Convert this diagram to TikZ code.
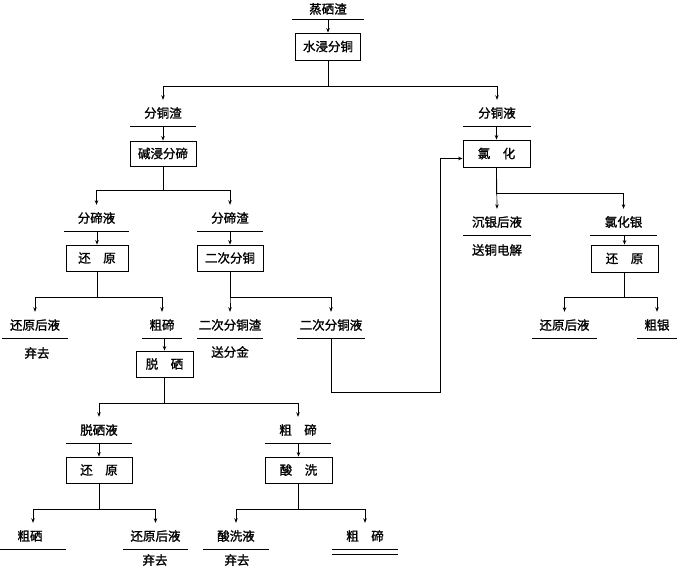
\documentclass[tikz,border=0pt]{standalone}
\usepackage{fontspec}
\setmainfont{Noto Sans CJK SC}[AutoFakeBold=1.2]
\usetikzlibrary{arrows.meta}
\begin{document}
\begin{tikzpicture}[x=1pt,y=-1pt,
  every node/.style={font=\fontsize{12.5pt}{12.5pt}\selectfont\bfseries, inner sep=0pt},
  box/.style={draw, line width=0.8pt, minimum height=26pt},
  lab/.style={minimum height=26pt},
  txt/.style={},
  ln/.style={line width=0.7pt},
  arr/.style={line width=0.7pt, -{Stealth[length=4.5pt,width=3.5pt]}}]
\useasboundingbox[fill=white] (0,0) rectangle (682,567);
% labels
\node[lab, minimum height=20pt, minimum width=71pt] (l0) at (328,9) {蒸硒渣};
\node[box, minimum width=65pt, minimum height=27pt] (b0) at (328,46.5) {水浸分铜};
\node[lab, minimum width=65pt] (l1) at (163,113) {分铜渣};
\node[lab, minimum width=67pt] (l2) at (497,113) {分铜液};
\node[box, minimum width=66pt, minimum height=25pt] (b1) at (163,153.5) {碱浸分碲};
\node[box, minimum width=67pt, minimum height=27pt] (b2) at (496.5,153.5) {氯\hspace{1em}化};
\node[lab, minimum width=65pt] (l3) at (96.5,218) {分碲液};
\node[lab, minimum width=66pt] (l4) at (230,218) {分碲渣};
\node[box, minimum width=62pt] (b3) at (97,258) {还\hspace{1em}原};
\node[box, minimum width=66pt] (b4) at (230,258) {二次分铜};
\node[lab, minimum width=66pt] (l5) at (35,325) {还原后液};
\node[txt] (t1) at (37,353) {弃去};
\node[lab, minimum width=40pt] (l6) at (162,325) {粗碲};
\node[lab, minimum width=66pt] (l7) at (230,325) {二次分铜渣};
\node[txt] (t2) at (230,352) {送分金};
\node[lab, minimum width=67pt] (l8) at (331,325) {二次分铜液};
\node[box, minimum width=57pt] (b5) at (164.5,364) {脱\hspace{1em}硒};
\node[lab, minimum width=66pt] (l9) at (99,430) {脱硒液};
\node[lab, minimum width=66pt] (l10) at (298,430) {粗\hspace{1em}碲};
\node[box, minimum width=66pt] (b6) at (99,470) {还\hspace{1em}原};
\node[box, minimum width=67pt] (b7) at (298.5,470) {酸\hspace{1em}洗};
\node[lab, minimum width=66pt] (l11) at (33,536) {\hspace{-6pt}粗硒};
\node[lab, minimum width=65pt] (l12) at (155.5,536) {还原后液};
\node[txt] (t3) at (155,560) {弃去};
\node[lab, minimum width=66pt] (l13) at (236,536) {酸洗液};
\node[txt] (t4) at (237,560) {弃去};
\node[lab, minimum width=66pt] (l14) at (365,536) {粗\hspace{1em}碲};
\node[lab, minimum width=67pt] (l15) at (497,222) {沉银后液};
\node[txt] (t5) at (497,250) {送铜电解};
\node[lab, minimum width=67pt] (l16) at (623.5,222) {氯化银};
\node[box, minimum width=67pt, minimum height=27pt] (b8) at (624.5,258.5) {还\hspace{1em}原};
\node[lab, minimum width=65pt] (l17) at (564.5,325) {还原后液};
\node[lab, minimum width=40pt] (l18) at (657,325) {粗银};
% underlines
\foreach \n in {l0,l1,l2,l3,l4,l5,l6,l7,l8,l9,l10,l11,l12,l13,l14,l15,l16,l17,l18}
  \draw[ln] (\n.south west) -- (\n.south east);
\draw[ln] ([yshift=-5pt]l14.south west) -- ([yshift=-5pt]l14.south east);
% label to box arrows
\draw[arr] (b0.north |- l0.south) -- (b0.north);
\draw[arr] (b1.north |- l1.south) -- (b1.north);
\draw[arr] (b2.north |- l2.south) -- (b2.north);
\draw[arr] (b3.north |- l3.south) -- (b3.north);
\draw[arr] (b4.north |- l4.south) -- (b4.north);
\draw[arr] (b5.north |- l6.south) -- (b5.north);
\draw[arr] (b6.north |- l9.south) -- (b6.north);
\draw[arr] (b7.north |- l10.south) -- (b7.north);
\draw[arr] (b8.north |- l16.south) -- (b8.north);
% splits
\draw[arr] (b0.south) -- ++(0,26) -| (l1.north);
\draw[arr] (b0.south) -- ++(0,26) -| (l2.north);
\draw[arr] (b1.south) -- ++(0,24) -| (l3.north);
\draw[arr] (b1.south) -- ++(0,24) -| (l4.north);
\draw[arr] (b3.south) -- ++(0,26) -| (l5.north);
\draw[arr] (b3.south) -- ++(0,26) -| (l6.north);
\draw[arr] (b4.south) -- ++(0,26) -| (l7.north);
\draw[arr] (b4.south) -- ++(0,26) -| (l8.north);
\draw[arr] (b5.south) -- ++(0,26) -| (l9.north);
\draw[arr] (b5.south) -- ++(0,26) -| (l10.north);
\draw[arr] (b6.south) -- ++(0,26) -| (l11.north);
\draw[arr] (b6.south) -- ++(0,26) -| (l12.north);
\draw[arr] (b7.south) -- ++(0,26) -| (l13.north);
\draw[arr] (b7.south) -- ++(0,26) -| (l14.north);
\draw[arr] (b2.south) -- (l15.north);
\draw[arr] (b2.south) -- ++(0,26) -| (l16.north);
\draw[arr] (b8.south) -- ++(0,25) -| (l17.north);
\draw[arr] (b8.south) -- ++(0,25) -| (l18.north);
% feedback
\coordinate (fb) at (440,392);
\draw[arr] (l8.south) |- (fb) |- ([yshift=-5pt]b2.west);
\end{tikzpicture}
\end{document}
